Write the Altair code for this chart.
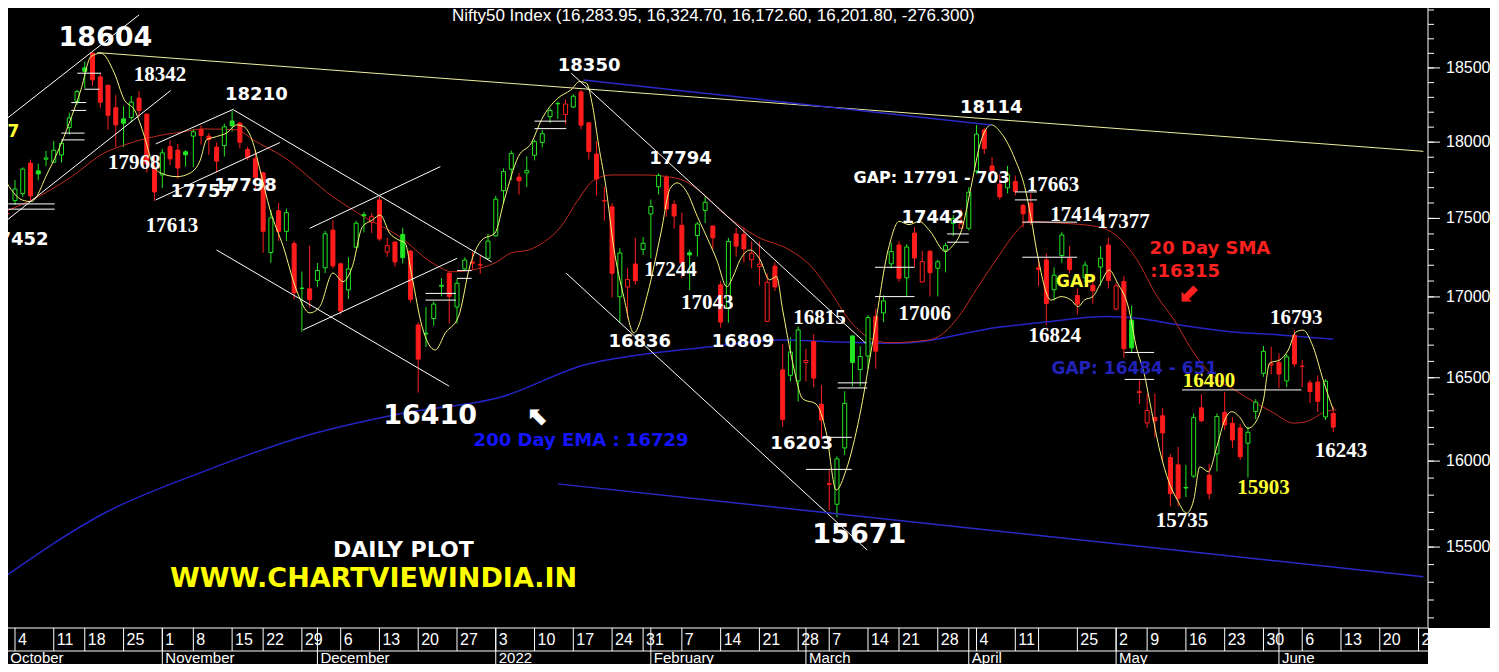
import altair as alt
import pandas as pd

# ---------------- trading calendar ----------------
HOLIDAYS = ["2021-10-15", "2021-11-05", "2021-11-19", "2022-01-26", "2022-03-01",
            "2022-03-18", "2022-04-14", "2022-04-15", "2022-05-03"]
cal = [d.strftime("%Y-%m-%d") for d in pd.bdate_range("2021-10-01", "2022-06-30")]
cal = [d for d in cal if d not in HOLIDAYS]
ORIGIN = cal.index("2021-10-04")


def day(s):
    return cal.index(s) - ORIGIN


# ---------------- OHLC (Oct 1 2021 .. Jun 10 2022) ----------------
PREV_CLOSE = 17618
opens_oct = [17531, 17615, 17661, 17861, 17810, 17887, 17867, 17915, 18097, 18273, 18500, 18602, 18439, 18382, 18230, 18155, 18164, 18295, 18187, 17833]
highs_oct = [17557, 17750, 17833, 17884, 17857, 17941, 18008, 18009, 18197, 18350, 18543, 18604, 18458, 18384, 18315, 18241, 18310, 18342, 18190, 17916]
lows_oct = [17452, 17587, 17640, 17613, 17748, 17841, 17864, 17865, 18050, 18248, 18361, 18377, 18228, 18084, 17969, 17968, 18131, 18167, 17799, 17613]
closes_oct = [17532, 17691, 17822, 17646, 17790, 17895, 17946, 17992, 18162, 18339, 18477, 18419, 18267, 18179, 18115, 18126, 18268, 18211, 17857, 17672]

opens_nov = [17783, 17970, 17947, 17936, 18040, 18084, 18040, 17967, 17977, 18141, 18127, 17952, 17890, 17797, 17281, 17550, 17417, 17338, 17055, 17051]
highs_nov = [17954, 18012, 17988, 17947, 18088, 18112, 18061, 17998, 18123, 18210, 18132, 17970, 17946, 17805, 17553, 17600, 17564, 17355, 17160, 17324]
lows_nov = [17697, 17847, 17757, 17839, 17836, 17983, 17915, 17800, 17905, 18071, 17958, 17880, 17688, 17280, 17216, 17355, 17354, 16985, 16782, 16931]
closes_nov = [17929, 17889, 17829, 17916, 18069, 18044, 18017, 17874, 18102, 18109, 17999, 17899, 17765, 17417, 17503, 17416, 17537, 17026, 17054, 16983]

opens_dec = [17104, 17184, 17425, 17209, 17044, 17315, 17524, 17476, 17619, 17284, 17348, 17397, 17290, 16825, 16773, 16865, 17067, 17150, 16937, 17177, 17220, 17201, 17244]
highs_dec = [17214, 17420, 17489, 17216, 17251, 17484, 17543, 17534, 17640, 17376, 17352, 17440, 17298, 16840, 16937, 16971, 17118, 17156, 17112, 17250, 17285, 17264, 17400]
lows_dec = [17064, 17150, 17180, 16891, 16987, 17308, 17410, 17405, 17355, 17253, 17192, 17211, 16966, 16410, 16688, 16820, 17004, 16834, 16833, 17162, 17176, 17146, 17238]
closes_dec = [17167, 17401, 17196, 16912, 17176, 17469, 17516, 17511, 17368, 17325, 17221, 17248, 16985, 16614, 16770, 16955, 17073, 17003, 17086, 17233, 17213, 17204, 17354]

opens_jan = [17388, 17681, 17821, 17769, 17797, 17913, 17998, 18170, 18257, 18185, 18235, 18337, 18129, 17921, 17613, 17575, 17001, 17062, 17208, 17301]
highs_jan = [17646, 17827, 17944, 17797, 17905, 18017, 18081, 18227, 18272, 18286, 18321, 18350, 18129, 18006, 17707, 17599, 17309, 17182, 17373, 17380]
lows_jan = [17383, 17593, 17749, 17655, 17704, 17879, 17964, 18128, 18155, 18119, 18228, 18085, 17885, 17648, 17485, 16997, 16837, 16866, 17077, 17264]
closes_jan = [17625, 17805, 17925, 17745, 17812, 18003, 18056, 18212, 18258, 18255, 18308, 18113, 17938, 17757, 17617, 17149, 17278, 17110, 17102, 17340]

opens_feb = [17529, 17706, 17767, 17591, 17456, 17279, 17390, 17552, 17451, 17076, 16933, 17400, 17397, 17236, 17192, 16847, 17194, 16548, 16515, 16481]
highs_feb = [17622, 17794, 17781, 17617, 17536, 17299, 17477, 17640, 17454, 17099, 17375, 17440, 17442, 17353, 17351, 17148, 17220, 16706, 16748, 16815]
lows_feb = [17244, 17655, 17511, 17433, 17119, 17043, 17255, 17470, 17303, 16809, 16839, 17254, 17217, 17180, 17071, 16844, 17037, 16203, 16478, 16356]
closes_feb = [17577, 17780, 17561, 17516, 17214, 17266, 17464, 17605, 17375, 16843, 17352, 17322, 17304, 17276, 17207, 17092, 17063, 16248, 16658, 16794]

opens_mar = [16593, 16723, 16339, 15867, 15747, 16078, 16757, 16550, 16633, 16877, 16900, 17209, 17329, 17120, 17405, 17094, 17289, 17181, 17297, 17468, 17437]
highs_mar = [16678, 16768, 16456, 15945, 16028, 16418, 16757, 16694, 16887, 16927, 17010, 17345, 17353, 17334, 17443, 17292, 17295, 17235, 17343, 17522, 17559]
lows_mar = [16478, 16442, 16133, 15711, 15671, 16036, 16447, 16448, 16555, 16555, 16842, 17179, 17096, 17006, 17190, 17091, 17003, 17003, 17155, 17387, 17435]
closes_mar = [16606, 16498, 16245, 15863, 16013, 16345, 16594, 16630, 16871, 16663, 16975, 17287, 17117, 17316, 17246, 17223, 17153, 17222, 17325, 17498, 17465]

opens_apr = [17436, 17809, 18081, 17842, 17723, 17699, 17740, 17584, 17599, 17183, 17234, 17045, 17262, 17242, 17009, 17121, 17073, 17189, 17329]
highs_apr = [17703, 18114, 18095, 17901, 17787, 17843, 17779, 17595, 17663, 17237, 17275, 17186, 17414, 17322, 17054, 17223, 17110, 17322, 17377]
lows_apr = [17422, 17791, 17921, 17779, 17623, 17663, 17650, 17442, 17457, 17067, 16824, 16978, 17215, 17149, 16889, 17092, 16958, 17071, 17053]
closes_apr = [17670, 18053, 17957, 17807, 17640, 17784, 17675, 17530, 17476, 17174, 16959, 17137, 17393, 17172, 16954, 17201, 17038, 17245, 17103]

opens_may = [16924, 17097, 16854, 16415, 16227, 16260, 16270, 16021, 15978, 15845, 15912, 16318, 15917, 16043, 16290, 16225, 16197, 16106, 16296, 16527, 16578]
highs_may = [17092, 17132, 16946, 16484, 16404, 16404, 16318, 16042, 16084, 15978, 16284, 16400, 15984, 16284, 16414, 16262, 16223, 16205, 16370, 16695, 16690]
lows_may = [16917, 16623, 16651, 16341, 16197, 16142, 15993, 15736, 15735, 15789, 15901, 16232, 15775, 15940, 16185, 16078, 16006, 15903, 16250, 16506, 16521]
closes_may = [17070, 16678, 16683, 16411, 16302, 16240, 16167, 15809, 15782, 15842, 16259, 16240, 15809, 16266, 16215, 16125, 16026, 16171, 16352, 16662, 16585]

opens_jun = [16594, 16481, 16762, 16570, 16469, 16474, 16263, 16284]
highs_jun = [16649, 16646, 16793, 16610, 16487, 16514, 16492, 16325]
lows_jun = [16438, 16443, 16567, 16444, 16347, 16293, 16244, 16173]
closes_jun = [16523, 16628, 16584, 16570, 16416, 16357, 16479, 16202]

opens = opens_oct + opens_nov + opens_dec + opens_jan + opens_feb + opens_mar + opens_apr + opens_may + opens_jun
highs = highs_oct + highs_nov + highs_dec + highs_jan + highs_feb + highs_mar + highs_apr + highs_may + highs_jun
lows = lows_oct + lows_nov + lows_dec + lows_jan + lows_feb + lows_mar + lows_apr + lows_may + lows_jun
closes = closes_oct + closes_nov + closes_dec + closes_jan + closes_feb + closes_mar + closes_apr + closes_may + closes_jun

# ---------------- indicator lines (trading-day position, level) ----------------
sma_day = [-1.3, 3.0, 7.3, 11.5, 14.1, 17.9, 21.8, 24.3, 28.6, 30.7, 34.6, 41.0, 45.2, 49.6, 53.8, 56.4, 58.9, 61.9, 64.0, 66.2, 68.3, 70.4, 72.6, 74.7, 76.9, 81.1, 85.4, 88.4, 91.3, 95.7, 99.9, 102.5, 105.0, 107.6, 110.2, 112.7, 117.8, 119.1, 121.7, 124.2, 126.8, 129.4, 130.6, 134.5, 139.6, 142.2, 144.7, 147.3, 149.5, 151.5, 153.7, 157.9, 162.3, 164.9, 166.5, 169.1, 170.4]
sma_val = [17545, 17641, 17772, 17928, 17981, 18036, 18070, 18088, 18082, 18015, 17903, 17641, 17505, 17383, 17215, 17159, 17170, 17215, 17279, 17297, 17351, 17447, 17620, 17751, 17783, 17783, 17761, 17675, 17537, 17383, 17297, 17202, 17043, 16855, 16744, 16715, 16732, 16753, 16877, 17065, 17255, 17429, 17481, 17471, 17447, 17383, 17234, 17002, 16855, 16691, 16548, 16408, 16288, 16226, 16235, 16296, 16306]

ema_day = [-1.3, 11.5, 24.3, 37.1, 50.0, 62.8, 73.4, 82.0, 90.0, 98.6, 105.4, 114.0, 126.8, 133.2, 140.9, 144.7, 150.2, 156.7, 163.1, 170.0]
ema_val = [15332, 15695, 15938, 16145, 16285, 16385, 16578, 16650, 16691, 16732, 16721, 16711, 16810, 16845, 16877, 16867, 16825, 16783, 16763, 16736]

fast_day = [-1.3, 0.9, 2.1, 4.2, 6.0, 7.3, 8.5, 9.8, 11.1, 12.8, 14.1, 15.4, 16.7, 17.7, 18.8, 20.9, 22.6, 23.9, 24.7, 26.0, 27.3, 28.6, 29.5, 30.7, 31.6, 32.9, 34.6, 36.3, 38.0, 39.3, 41.0, 42.3, 43.5, 44.8, 46.1, 47.1, 48.3, 49.5, 50.3, 51.2, 52.5, 54.2, 55.5, 57.2, 58.7, 60.2, 61.9, 63.1, 64.9, 66.6, 67.9, 70.0, 71.7, 72.8, 73.7, 74.5, 75.3, 76.2, 77.2, 78.5, 79.8, 81.6, 83.3, 84.5, 85.4, 86.7, 88.0, 88.8, 90.5, 91.8, 92.6, 93.5, 94.8, 96.1, 97.3, 98.2, 99.0, 100.3, 101.6, 103.3, 104.6, 105.9, 107.2, 108.9, 110.5, 112.7, 114.0, 115.3, 116.6, 118.0, 120.0, 120.8, 122.1, 123.3, 124.5, 125.9, 127.2, 129.0, 130.2, 131.0, 131.9, 133.6, 134.9, 136.2, 137.1, 137.9, 139.0, 140.0, 141.1, 142.2, 143.5, 144.7, 145.6, 146.4, 147.7, 148.8, 149.9, 151.1, 152.0, 152.8, 153.9, 155.0, 156.0, 156.9, 157.9, 159.0, 159.9, 161.0, 161.8, 163.1, 164.2, 165.2, 166.1, 167.4, 168.7, 170.0]
fast_val = [17751, 17620, 17609, 17796, 17995, 18170, 18351, 18578, 18601, 18466, 18283, 18216, 18037, 17862, 17796, 17772, 17796, 17882, 18015, 18037, 18061, 18115, 18104, 17995, 17816, 17555, 17318, 17043, 16900, 16939, 17151, 17096, 17191, 17446, 17490, 17522, 17406, 17361, 17342, 17127, 16814, 16670, 16775, 16877, 17202, 17361, 17406, 17620, 17903, 17995, 18150, 18294, 18351, 18407, 18396, 18238, 17970, 17707, 17318, 17002, 16775, 17024, 17406, 17696, 17731, 17666, 17512, 17425, 17234, 17064, 17128, 17234, 17297, 17234, 17107, 17128, 16918, 16590, 16371, 16341, 16174, 15830, 15950, 16264, 16690, 17318, 17481, 17460, 17481, 17418, 17287, 17318, 17429, 17707, 17995, 18115, 18059, 17882, 17707, 17512, 17255, 16980, 17002, 16980, 16939, 16980, 17002, 17086, 17170, 17086, 16950, 16670, 16530, 16340, 16049, 15878, 15771, 15695, 15771, 15966, 15937, 16087, 16244, 16295, 16264, 16195, 16225, 16365, 16590, 16609, 16670, 16782, 16793, 16690, 16486, 16306]

# ---------------- drawn trend lines (day1, level1, day2, level2) ----------------
tl_d1 = [-1.28, -1.28, 18.15, 18.15, 28.18, 26.0, 38.0, 37.15, 71.73, 71.09, 10.63, 73.3, 70.0]
tl_v1 = [18148, 17479, 17988, 17620, 18216, 17297, 17436, 16794, 18464, 17149, 18605, 18418, 15866]
tl_d2 = [16.01, 20.07, 28.18, 34.16, 61.48, 55.98, 54.86, 57.0, 109.73, 109.9, 181.63, 125.9, 181.63]
tl_v2 = [18866, 18346, 18220, 17997, 17221, 16449, 17838, 17244, 16711, 15483, 17939, 18115, 15331]
tl_kind = ["white"] * 10 + ["yellow", "blue", "blue"]

# short horizontal gap / level marks (day1, day2, level)
hl_d1 = [8.03, 8.97, 7.26, 7.26, 5.98, 5.98, -0.86, -0.86, 52.94, 52.94, 57.0, 57.0, 67.0, 67.0, 106.1, 106.1, 104.6, 102.0, 110.9, 110.9, 120.2, 120.2, 128.95, 128.95, 129.9, 129.9, 143.1, 143.1, 150.5]
hl_d2 = [11.1, 10.89, 9.18, 9.18, 8.97, 8.97, 5.12, 5.12, 56.87, 56.87, 58.9, 58.9, 71.1, 71.1, 109.9, 109.9, 107.9, 107.9, 116.0, 116.0, 123.0, 123.0, 131.8, 131.8, 136.97, 136.97, 146.9, 146.9, 165.9]
hl_v = [18464, 18355, 18265, 18212, 18060, 18015, 17594, 17560, 17022, 16980, 17166, 17117, 18140, 18090, 16469, 16438, 16141, 15951, 17187, 17002, 17400, 17347, 17672, 17620, 17476, 17251, 16655, 16490, 16426]

# ---------------- axis labels ----------------
week_dates = ["2021-10-04", "2021-10-11", "2021-10-18", "2021-10-25", "2021-11-01", "2021-11-08", "2021-11-15",
              "2021-11-22", "2021-11-29", "2021-12-06", "2021-12-13", "2021-12-20", "2021-12-27", "2022-01-03",
              "2022-01-10", "2022-01-17", "2022-01-24", "2022-01-31", "2022-02-07", "2022-02-14", "2022-02-21",
              "2022-02-28", "2022-03-07", "2022-03-14", "2022-03-21", "2022-03-28", "2022-04-04", "2022-04-11",
              "2022-04-18", "2022-04-25", "2022-05-02", "2022-05-09", "2022-05-16", "2022-05-23", "2022-05-30",
              "2022-06-06", "2022-06-13", "2022-06-20", "2022-06-27"]
week_labels = [str(int(s[-2:])) for s in week_dates]
week_labels[week_dates.index("2022-04-18")] = ""
month_dates = ["2021-10-01", "2021-11-01", "2021-12-01", "2022-01-03", "2022-02-01", "2022-03-02",
               "2022-04-01", "2022-05-02", "2022-06-01"]
month_labels = ["October", "November", "December", "2022", "February", "March", "April", "May", "June"]
y_ticks = list(range(15100, 18901, 100))

# ---------------- frames ----------------
cdates = cal[:len(opens)]
assert len(cdates) == len(opens) == len(highs) == len(lows) == len(closes)
prev = [PREV_CLOSE] + closes[:-1]
candles = pd.DataFrame({
    "d": [day(s) for s in cdates], "o": opens, "h": highs, "l": lows, "c": closes,
    "dir": ["up" if c >= p else "down" for c, p in zip(closes, prev)],
    "filled": [c < o for c, o in zip(closes, opens)],
})
sma = pd.DataFrame({"d": sma_day, "v": sma_val})
ema = pd.DataFrame({"d": ema_day, "v": ema_val})
fast = pd.DataFrame({"d": fast_day, "v": fast_val})
tlines = pd.DataFrame({"d1": tl_d1, "v1": tl_v1, "d2": tl_d2, "v2": tl_v2, "kind": tl_kind})
hlines = pd.DataFrame({"d1": hl_d1, "d2": hl_d2, "v": hl_v})
weeks = pd.DataFrame({"d": [day(s) for s in week_dates], "label": week_labels})
months = pd.DataFrame({"d": [day(s) for s in month_dates], "label": month_labels})
ticks = pd.DataFrame({"v": y_ticks, "major": [v % 500 == 0 for v in y_ticks]})
one = pd.DataFrame({"k": [0]})

# whole drawing area (the price pane is the first PW x PH pixels of it)
W, H = 1482, 656
PW, PH = 1420, 620
xs = alt.Scale(domain=[-0.256, 189.57], nice=False, zero=False)
ys = alt.Scale(type="log", domain=[14845, 18914], nice=False)
GREEN, RED = "#22e622", "#ff1c1c"
dir_scale = alt.Scale(domain=["up", "down"], range=[GREEN, RED])


def X(f="d"):
    return alt.X(f"{f}:Q", scale=xs, axis=None)


def Y(f):
    return alt.Y(f"{f}:Q", scale=ys, axis=None)


wicks = alt.Chart(candles).mark_rule(strokeWidth=1, clip=True).encode(
    x=X(), y=Y("l"), y2="h:Q",
    color=alt.Color("dir:N", scale=dir_scale, legend=None))
bodies_f = alt.Chart(candles).transform_filter("datum.filled").mark_bar(size=4, strokeWidth=1, clip=True).encode(
    x=X(), y=Y("o"), y2="c:Q",
    fill=alt.Fill("dir:N", scale=dir_scale, legend=None),
    stroke=alt.Stroke("dir:N", scale=dir_scale, legend=None))
bodies_h = alt.Chart(candles).transform_filter("!datum.filled").mark_bar(size=4, strokeWidth=1, fill="black", clip=True).encode(
    x=X(), y=Y("o"), y2="c:Q",
    stroke=alt.Stroke("dir:N", scale=dir_scale, legend=None))

ema_line = alt.Chart(ema).mark_line(color="#2424c4", strokeWidth=1.5, clip=True, interpolate="monotone").encode(x=X(), y=Y("v"))
sma_line = alt.Chart(sma).mark_line(color="#c02a1e", strokeWidth=1, clip=True, interpolate="monotone").encode(x=X(), y=Y("v"))
fast_line = alt.Chart(fast).mark_line(color="#f4f47a", strokeWidth=1, clip=True, interpolate="monotone").encode(x=X(), y=Y("v"))


def trend_layer(kind, color, width=1.0):
    return alt.Chart(tlines).transform_filter(f"datum.kind === '{kind}'").mark_rule(
        strokeWidth=width, color=color, clip=True).encode(x=X("d1"), x2="d2:Q", y=Y("v1"), y2="v2:Q")


trend_white = trend_layer("white", "#ffffff")
trend_yellow = trend_layer("yellow", "#f0f0a0")
trend_blue = trend_layer("blue", "#2a2ac8", 1.5)
hmarks = alt.Chart(hlines).mark_rule(strokeWidth=1, color="white", clip=True).encode(
    x=X("d1"), x2="d2:Q", y=Y("v"))


def texts(items, **kw):
    df = pd.DataFrame(items, columns=["t", "d", "v"])
    base = dict(align="center", baseline="middle", fontWeight="bold", font="DejaVu Sans", color="white")
    base.update(kw)
    return alt.Chart(df).mark_text(**base).encode(x=X(), y=Y("v"), text="t:N")


big_lbls = [("18604", 11.66, 18706), ("16410", 53.54, 16268), ("15671", 108.88, 15569)]
bold_lbls = [("18210", 31.13, 18316), ("17757", 24.08, 17672), ("17798", 29.72, 17711), ("18350", 74.04, 18514),
             ("17794", 85.82, 17888), ("18114", 125.9, 18229), ("17442", 118.35, 17503), ("16836", 80.57, 16722),
             ("16809", 93.89, 16719), ("16203", 101.45, 16101), ("17452", 0.3, 17358)]
serif_lbls = [("18342", 18.70, 18452), ("17968", 15.37, 17862), ("17613", 20.24, 17451), ("17663", 133.85, 17718),
              ("17414", 136.9, 17522), ("17377", 142.95, 17477), ("17244", 84.54, 17170), ("17043", 89.28, 16962),
              ("16815", 103.75, 16868), ("17006", 117.33, 16893), ("16824", 134.1, 16756), ("16793", 165.24, 16868),
              ("16243", 171.0, 16059), ("15735", 150.5, 15650)]
serif_yel = [("16400", 153.97, 16480), ("15903", 161.0, 15842)]
gap_white = [("GAP: 17791 - 703", 118.2, 17764)]
yel_small = [("GAP", 136.8, 17094), ("47", -0.96, 18070)]
red_lbls = [("20 Day SMA", 154.1, 17304), (":16315", 150.9, 17157)]
red_arrow = [("⬋", 151.5, 17025)]
white_arrow = [("⬉", 67.5, 16262)]
ema_lbl = [("200 Day EMA : 16729", 73.0, 16119)]
gap_blue = [("GAP: 16484 - 651", 144.36, 16554)]
daily = [("DAILY PLOT", 50.08, 15483)]
site = [("WWW.CHARTVIEWINDIA.IN", 46.24, 15320)]
title = [("Nifty50 Index (16,283.95, 16,324.70, 16,172.60, 16,201.80, -276.300)", 90.05, 18859)]

text_layers = [
    texts(big_lbls, fontSize=27),
    texts(bold_lbls, fontSize=18),
    texts(serif_lbls, font="Liberation Serif", fontSize=21),
    texts(serif_yel, font="Liberation Serif", fontSize=21, color="#ffff33"),
    texts(gap_white, fontSize=16),
    texts(yel_small, fontSize=17, color="#ffff33"),
    texts(red_lbls, fontSize=18, color="#ff2020"),
    texts(red_arrow, fontSize=26, color="#ff2020"),
    texts(white_arrow, fontSize=26),
    texts(ema_lbl, fontSize=18, color="#1414ff"),
    texts(gap_blue, fontSize=17, color="#2222b8"),
    texts(daily, fontSize=22),
    texts(site, fontSize=27, color="#ffff00"),
    texts(title, fontWeight="normal", font="Liberation Sans", fontSize=17),
]

# ---------------- price axis on the right (drawn through the y scale) ----------------
y_domain = alt.Chart(one).mark_rule(color="white").encode(x=alt.value(PW), y=alt.value(0), y2=alt.value(PH))
y_minor = alt.Chart(ticks).mark_rule(color="white").encode(x=alt.value(PW), x2=alt.value(PW + 6), y=Y("v"))
y_major = alt.Chart(ticks).transform_filter("datum.major").mark_rule(color="white").encode(
    x=alt.value(PW), x2=alt.value(PW + 12), y=Y("v"))
y_labels = alt.Chart(ticks).transform_filter("datum.major").mark_text(
    align="left", baseline="middle", color="white", font="Liberation Sans", fontSize=16).encode(
    x=alt.value(PW + 18), y=Y("v"), text=alt.Text("v:Q", format="d"))

# ---------------- bottom date strip ----------------
strip_top = alt.Chart(one).mark_rule(color="white").encode(x=alt.value(0), x2=alt.value(PW), y=alt.value(PH))
strip_mid = alt.Chart(one).mark_rule(color="white").encode(x=alt.value(0), x2=alt.value(PW), y=alt.value(PH + 23))
week_rules = alt.Chart(weeks).mark_rule(color="white").encode(x=X(), y=alt.value(PH), y2=alt.value(PH + 23))
month_rules = alt.Chart(months).mark_rule(color="white").encode(x=X(), y=alt.value(PH), y2=alt.value(H))
week_text = alt.Chart(weeks).mark_text(align="left", dx=3, baseline="middle", color="white",
                                       font="Liberation Sans", fontSize=16).encode(
    x=X(), y=alt.value(PH + 12), text="label:N")
month_text = alt.Chart(months).mark_text(align="left", dx=3, baseline="middle", color="white",
                                         font="Liberation Sans", fontSize=15).encode(
    x=X(), y=alt.value(PH + 30), text="label:N")
corner = alt.Chart(one).mark_rect(color="white").encode(
    x=alt.value(PW), x2=alt.value(W), y=alt.value(PH), y2=alt.value(H))

chart = alt.layer(
    wicks, ema_line, sma_line, bodies_f, bodies_h, fast_line, trend_white, trend_yellow, trend_blue, hmarks,
    *text_layers,
    strip_top, strip_mid, week_rules, month_rules, week_text, month_text, corner,
    y_domain, y_minor, y_major, y_labels,
).properties(
    width=W, height=H, background="black",
    padding={"left": 0, "top": 0, "right": 0, "bottom": 0},
    autosize=alt.AutoSizeParams(type="none"),
).configure_view(stroke=None)

chart.save("out.html", embed_options={"renderer": "svg", "actions": False})
